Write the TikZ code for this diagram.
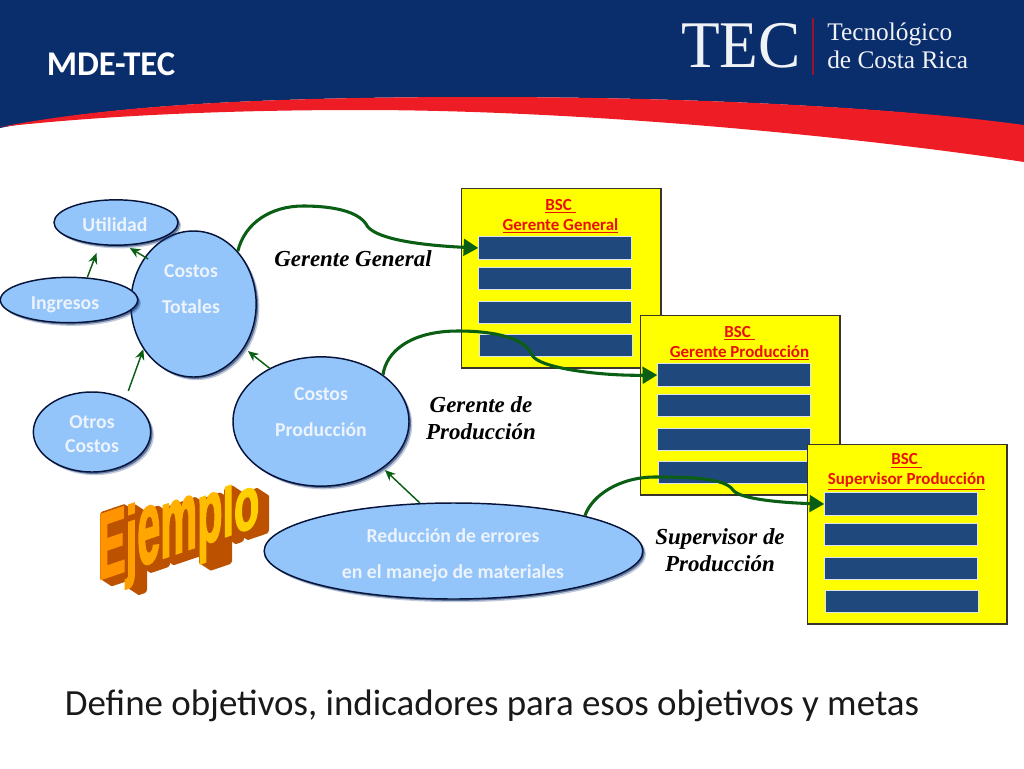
\documentclass[tikz,border=0pt]{standalone}
\usepackage{fontspec}
\usepackage{graphicx}
\setmainfont{Carlito}
\newfontfamily\timesfont{Liberation Serif}
\newfontfamily\ejfont[UprightFont=* Bold,UprightFeatures={FakeBold=2.5}]{Liberation Sans}
\usetikzlibrary{shapes.geometric,shadows,arrows.meta}
\definecolor{navyhead}{HTML}{0A2D6C}
\definecolor{redband}{HTML}{EE1C25}
\definecolor{ellfill}{HTML}{93C5FB}
\definecolor{ellline}{HTML}{07143A}
\definecolor{elltext}{HTML}{EDF3FB}
\definecolor{bscyellow}{HTML}{FFFF00}
\definecolor{bscred}{HTML}{E81008}
\definecolor{barblue}{HTML}{1F497D}
\definecolor{arrowgreen}{HTML}{0B5F14}
\definecolor{ejside}{HTML}{BC5200}
\newcommand{\ejl}[3]{\textcolor[HTML]{#2}{\scalebox{1}[#1]{#3}}}
\tikzset{
  elli/.style={ellipse,draw=ellline,line width=1.1pt,fill=ellfill,inner sep=0pt,
    drop shadow={shadow xshift=2.4pt,shadow yshift=-2.4pt,fill=navyhead,opacity=.25},
    drop shadow={shadow xshift=1.4pt,shadow yshift=-1.4pt,fill=navyhead,opacity=.55}},
  elltxt/.style={text=elltext,align=center,font=\bfseries\fontsize{14.8}{26.8}\selectfont},
  bscbox/.style={rectangle,draw=black!80!olive,line width=1pt,fill=bscyellow,anchor=north west,
    minimum width=149.5pt,minimum height=134.5pt},
  bar/.style={rectangle,draw=white!85!barblue,line width=.6pt,fill=barblue,inner sep=0pt,
    minimum width=114.5pt,minimum height=17pt},
  bsctitle/.style={text=bscred,align=center,font=\bfseries\fontsize{12.7}{15}\selectfont},
  rolelabel/.style={align=center,font=\timesfont\bfseries\itshape\fontsize{17.2}{20.25}\selectfont},
  thinarrow/.style={draw=arrowgreen,line width=1.1pt,-{Stealth[length=8pt,width=7pt]}},
  bigarrow/.style={draw=arrowgreen,line width=2.3pt,-{Triangle[length=11pt,width=12.5pt]}}
}
\begin{document}
\begin{tikzpicture}[x=0.75pt,y=-0.75pt]
\useasboundingbox (0,0) rectangle (1024,768);

% Header
\fill[navyhead] (0,0) -- (1024,0) -- (1024,126) .. controls (900,108) and (700,97) .. (480,97)
  .. controls (230,97) and (100,108) .. (0,128) -- cycle;
\fill[redband] (0,127) .. controls (100,108) and (230,97) .. (480,97)
  .. controls (700,97) and (900,108) .. (1024,125) -- (1024,162)
  .. controls (880,140) and (600,110) .. (360,110) .. controls (200,110) and (80,118) .. (0,127) -- cycle;
\node[text=white,font=\bfseries\fontsize{26}{26}\selectfont] (title) at (111,64) {MDE-TEC};
\node[text=white!94!navyhead,xscale=.95,font=\timesfont\fontsize{50}{50}\selectfont] (tec) at (741,46) {TEC};
\draw[red!60!navyhead,line width=.8pt] (813,18) -- (813,75);
\node[text=white!94!navyhead,anchor=west,align=left,inner sep=0pt,
  font=\timesfont\fontsize{19}{21}\selectfont] (tecname) at (827,46) {Tecnológico\\de Costa Rica};

% BSC boxes
\foreach \b/\bx/\by/\bname in {1/461/188/{Gerente General},2/640/315/{Gerente Producción},3/807/444/{Supervisor Producción}}{
  \node[bscbox] (bsc\b) at (\bx,\by) {};
  \node[bsctitle] (bsctitle\b) at (\bx+99.5,\by+28) {\underline{BSC~}\\\underline{\bname}};
  \foreach \i/\dy/\dx in {1/60/94,2/90.5/94,3/124.5/94,4/157.5/95}
    \node[bar] (bar\b\i) at (\bx+\dx,\by+\dy) {};
}

% Objectives
\node[elli,minimum width=94pt,minimum height=109.5pt] (totales) at (193.5,304) {};
\node[elli,minimum width=93pt,minimum height=34pt] (utilidad) at (116,222.5) {};
\node[elli,minimum width=103pt,minimum height=34pt] (ingresos) at (69,300) {};
\node[elli,minimum width=88pt,minimum height=60pt] (otros) at (92,432) {};
\node[elli,minimum width=132pt,minimum height=97pt] (produccion) at (321,421.5) {};
\node[elli,minimum width=284pt,minimum height=72pt] (reduccion) at (453.5,551) {};

\node[elltxt] (utilidadtxt) at (115,225) {Utilidad};
\node[elltxt] (ingresostxt) at (65,305) {Ingresos};
\node[elltxt] (totalestxt) at (191,289) {Costos\\Totales};
\node[elltxt,font=\bfseries\fontsize{14.8}{18}\selectfont] (otrostxt) at (92,434) {Otros\\Costos};
\node[elltxt] (producciontxt) at (321,412) {Costos\\Producción};
\node[elltxt] (reducciontxt) at (453,555.5) {Reducción de errores\\en el manejo de materiales};

% Thin arrows
\draw[thinarrow,shorten >=6.5pt] (ingresos.51) -- (utilidad.234);
\draw[thinarrow,shorten <=-3pt,shorten >=3.5pt] (totales.136) -- (utilidad.293);
\draw[thinarrow,shorten <=6pt] (otros.45) -- (totales.222);
\draw[thinarrow,shorten >=3.5pt] (produccion.134) -- (totales.319);
\draw[thinarrow,shorten >=2pt] (reduccion.125.5) -- (produccion.323);

% Thick arrows
\draw[bigarrow] (totales.50) .. controls (245,222) and (272,206) .. (303,206)
  .. controls (335,206) and (358,212) .. (366,224) .. controls (372,238) and (415,245) .. (bar11.west);
\draw[bigarrow] (produccion.37) .. controls (386,352) and (410,331) .. (458,331)
  .. controls (495,331) and (525,338) .. (532,355) .. controls (538,368) and (600,376) .. (bar21.west);
\draw[bigarrow] (reduccion.15) .. controls (592,495) and (620,477) .. (655,477)
  .. controls (690,477) and (725,478) .. (733,490) .. controls (740,500) and (790,503) .. (bar31.west);

% Labels
\node[rolelabel] (rolegeneral) at (353,259) {Gerente General};
\node[rolelabel] (roleproduccion) at (481,418.5) {Gerente de\\Producción};
\node[rolelabel] (rolesupervisor) at (720,550) {Supervisor de\\Producción};

% Ejemplo
\begin{scope}[cm={1,.34,0,1,(98,580)}]
  \foreach \e in {11,10,...,1}
    \foreach \la/\lb/\lt/\lf in {1/27/68/0,28/38/64/18,40/61/55/0,63/98/51/0,100/123/47/18,125/135/50/0,137/160/39/0}
      \fill[ejside,rounded corners=2pt] (\la+\e,\lf+\e) rectangle (\lb+\e,-\lt+\e);
\end{scope}
\node[anchor=base west,inner sep=0pt,yslant=.34,xscale=.444,font=\ejfont\fontsize{70}{70}\selectfont] (ejemplo) at (98,580)
  {\ejl{1}{FF9400}{E}\ejl{.95}{FF9E00}{j}\ejl{1.12}{FFA600}{e}\ejl{1.05}{FFB000}{m}\ejl{.95}{FFBC00}{p}\ejl{.73}{FFC600}{l}\ejl{.8}{FFD000}{o}};

\node[text=black!90,font=\fontsize{27.7}{27.7}\selectfont] (caption) at (492,706) {Define objetivos, indicadores para esos objetivos y metas};
\end{tikzpicture}
\end{document}
